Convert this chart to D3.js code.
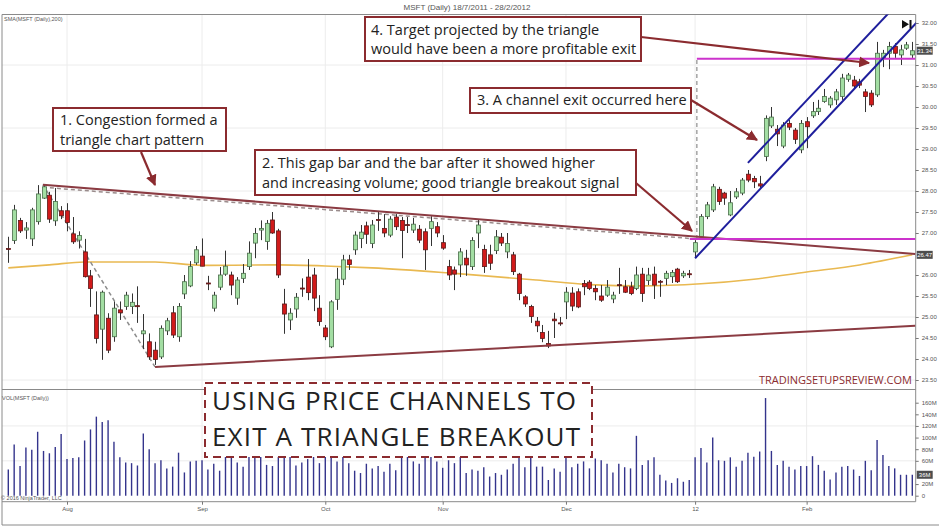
<!DOCTYPE html>
<html>
<head>
<meta charset="utf-8">
<script src="https://cdn.jsdelivr.net/npm/d3@7"></script>
<style>
  body { margin: 0; background: #fff; }
  svg { display: block; }
  .small { font-family: Arial, "Liberation Sans", sans-serif; fill: #555; }
  .note { font-family: "Open Sans", sans-serif; fill: #222; }
</style>
</head>
<body>
<svg id="chart" width="939" height="526"></svg>
<script>

// daily bars (prices in $)
var opens = [26.63,26.82,27.30,27.07,26.86,27.27,27.83,27.90,27.29,27.53,27.53,26.98,26.83,26.55,25.98,25.05,24.71,24.97,24.53,25.17,
  25.25,25.25,25.27,24.60,24.41,24.21,24.05,24.67,25.10,24.53,25.55,25.74,26.29,26.45,25.81,25.21,25.71,26.02,26.00,25.45,
  25.92,26.20,26.76,27.07,26.80,27.31,27.05,25.31,24.93,25.19,25.69,25.95,26.00,25.21,24.74,24.29,25.42,25.90,26.36,26.60,
  26.87,27.17,26.75,27.32,27.11,26.95,27.38,27.30,27.20,27.07,27.09,27.03,27.11,27.15,26.77,26.20,26.12,26.24,26.40,26.20,
  27.00,26.61,26.48,26.58,26.90,26.55,26.48,26.02,25.48,25.25,24.90,24.63,24.37,24.95,24.86,25.36,25.57,25.60,25.80,25.83,
  25.68,25.50,25.52,25.43,25.77,25.72,25.72,25.68,26.02,25.87,26.02,25.85,25.92,25.96,26.14,25.98,26.03,26.55,26.91,27.39,
  27.55,28.04,27.95,27.43,27.86,27.95,28.40,28.30,28.17,28.82,29.55,29.47,29.07,29.61,29.45,28.98,29.65,29.79,29.89,30.13,
  30.05,30.17,30.25,30.66,30.64,30.60,30.36,30.33,30.29,31.16,31.28,31.44,31.24,31.40,31.24];
var highs = [26.91,27.67,27.36,27.26,27.60,28.14,28.14,27.98,28.07,27.64,27.71,27.38,27.04,26.86,26.12,25.61,25.63,25.09,25.37,25.37,
  25.60,25.56,25.73,25.07,24.61,24.41,24.80,24.98,25.26,25.33,26.00,26.33,26.69,26.87,25.98,25.60,26.19,26.58,26.08,25.95,
  26.26,26.80,27.12,27.30,27.31,27.50,27.10,25.67,25.21,25.57,25.92,26.38,26.17,25.52,24.81,25.40,26.17,26.48,26.48,27.04,
  27.19,27.27,27.31,27.50,27.45,27.40,27.45,27.38,27.38,27.36,27.19,27.11,27.40,27.26,26.95,26.36,26.20,26.64,26.60,26.90,
  27.31,26.72,26.72,27.07,27.00,27.00,26.55,26.05,25.52,25.29,25.00,24.81,24.67,25.10,25.00,25.71,25.71,25.68,25.88,25.88,
  25.76,25.76,25.88,25.60,26.17,25.88,25.84,26.20,26.17,26.17,26.20,25.88,26.10,26.12,26.17,26.10,26.12,26.83,27.45,27.74,
  28.17,28.10,27.98,28.00,28.07,28.31,28.50,28.36,28.36,29.80,30.00,29.57,29.64,29.69,29.50,29.69,29.76,30.12,30.17,30.43,
  30.26,30.43,30.79,30.81,30.74,30.67,30.43,30.40,31.55,31.36,31.55,31.52,31.48,31.55,31.55];
var lows = [26.29,26.74,27.00,26.86,26.69,27.20,27.81,27.24,27.17,27.33,27.04,26.74,26.63,25.94,25.24,24.37,23.98,24.14,24.41,24.93,
  25.17,25.07,24.86,24.24,23.98,23.86,24.00,24.57,24.50,24.41,25.43,25.71,26.24,26.21,25.64,25.13,25.64,25.98,25.52,25.29,
  25.81,26.12,26.40,26.83,26.60,26.98,25.93,24.60,24.69,24.98,25.48,25.40,25.14,24.79,24.45,24.26,25.17,25.76,26.12,26.48,
  26.64,26.74,26.64,27.05,26.90,26.90,27.07,26.40,27.00,27.00,26.76,26.12,26.69,26.90,26.60,25.88,25.64,25.95,25.98,26.12,
  26.64,26.05,26.12,26.50,26.69,26.40,26.00,25.40,25.24,24.86,24.64,24.40,24.26,24.50,24.79,24.95,25.14,25.21,25.52,25.64,
  25.40,25.36,25.48,25.33,25.55,25.57,25.52,25.64,25.36,25.76,25.43,25.48,25.76,25.81,25.81,25.93,25.93,26.40,26.86,27.33,
  27.50,27.67,27.67,27.40,27.81,27.90,28.21,28.07,28.07,28.71,29.50,29.07,29.02,29.45,29.12,28.90,29.02,29.74,29.81,30.10,
  29.98,30.05,30.17,30.60,30.45,30.45,29.88,30.00,30.24,30.95,30.90,31.17,31.00,31.36,31.17];
var closes = [26.61,27.55,27.05,27.12,27.55,27.93,28.10,27.33,27.75,27.41,27.25,26.79,26.94,25.96,25.68,24.49,25.59,24.21,25.21,25.10,
  25.52,25.35,25.25,24.67,24.05,23.99,24.73,24.91,24.57,25.25,25.84,26.20,26.60,26.21,25.79,25.52,26.00,26.21,25.76,25.88,
  26.04,26.52,26.99,27.11,27.23,27.00,26.00,25.07,25.09,25.47,25.67,25.58,25.45,24.89,24.53,25.36,25.90,26.36,26.25,26.95,
  27.02,26.97,27.19,27.30,27.00,27.33,27.15,27.06,27.18,27.21,26.83,26.60,27.27,27.00,26.64,26.00,26.02,26.55,26.24,26.82,
  27.19,26.20,26.28,26.91,26.76,26.75,26.08,25.56,25.31,25.01,24.79,24.49,24.31,24.91,24.84,25.59,25.26,25.24,25.72,25.68,
  25.60,25.40,25.71,25.52,25.75,25.59,25.56,26.00,25.56,26.00,25.76,25.83,26.04,26.06,25.84,26.04,26.01,26.77,27.39,27.67,
  28.10,27.75,27.83,27.72,27.98,28.26,28.26,28.22,28.12,29.73,29.76,29.36,29.57,29.52,29.23,29.61,29.53,29.89,29.97,30.25,
  30.21,30.36,30.69,30.76,30.50,30.52,30.25,30.05,31.28,31.28,31.44,31.28,31.36,31.48,31.34];

// daily volume in millions
var volumes = [45,88,51,83,79,110,77,73,84,106,63,65,66,95,114,136,127,130,93,66,
  57,56,52,107,80,56,61,47,50,74,40,59,60,61,45,55,43,72,78,57,
  50,70,84,75,53,51,92,88,71,52,57,63,69,56,74,81,59,68,56,43,
  39,55,47,51,41,55,44,70,76,59,55,73,67,59,48,61,56,69,39,45,
  43,49,33,39,36,45,55,72,49,68,50,50,27,47,41,74,49,55,59,47,
  64,61,55,40,55,49,47,103,53,61,66,36,26,22,30,24,27,66,82,57,
  100,61,60,66,50,60,74,67,76,168,77,53,60,50,45,51,51,68,53,43,
  28,40,50,51,45,34,60,44,96,70,51,47,36,36,36];

// 200 day moving average, read at a few bars
var smaBars = [0, 7, 13, 25, 33, 46, 55, 62, 75, 90, 99, 108, 118, 127, 136, 145, 154];
var smaValues = [26.17, 26.24, 26.31, 26.31, 26.23, 26.24, 26.21, 26.17, 26.05, 25.88, 25.77, 25.74, 25.79, 25.90, 26.07, 26.24, 26.48];

// axis ticks (26.50 and 40M sit under the value boxes)
var priceTicks = [23.5, 24, 24.5, 25, 25.5, 26, 27, 27.5, 28, 28.5, 29, 29.5, 30, 30.5, 31, 31.5, 32];
var priceGrid = [23.5, 25, 26.5, 28, 29.5, 31];
var volumeTicks = [0, 20, 60, 80, 100, 120, 140, 160];
var volumeGrid = [60, 120];
var monthBars = [10, 33, 54, 74, 95, 117, 136];
var monthLabels = ["Aug", "Sep", "Oct", "Nov", "Dec", "12", "Feb"];

// drawn lines, as [bar, price] pairs
var triangleTop = [[5.9, 28.15], [154.5, 26.50]];
var triangleTopDash = [[5.9, 28.09], [116.1, 26.87]];
var triangleBottom = [[25, 23.81], [154.5, 24.79]];
var triangleDrop = [[5.9, 28.15], [25, 23.81]];
var targetMove = [[117.3, 26.86], [117.3, 31.15]];
var targetLine = [[117.3, 31.15], [154.5, 31.15]];
var breakLine = [[116.1, 26.86], [154.5, 26.86]];
var channelLow = [[117, 26.40], [154.8, 32.02]];
var channelHigh = [[126, 28.67], [150, 32.24]];

var svg = d3.select("#chart");

// panel edges
var left = 2, right = 915.7;
var priceTop = 14.5, priceBottom = 389.5;
var volTop = 389.5, volBottom = 501.7;

var x = d3.scaleLinear().domain([0, 154]).range([8.3, 912.3]);
var y = d3.scaleLinear().domain([23.5, 32]).range([380, 23]);
var yVol = d3.scaleLinear().domain([0, 160]).range([495.7, 402.7]);

svg.append("defs").append("clipPath").attr("id", "priceClip")
  .append("rect").attr("x", left).attr("y", priceTop).attr("width", right - left).attr("height", priceBottom - priceTop);

svg.select("defs").append("marker")
  .attr("id", "head").attr("viewBox", "0 0 10 10").attr("refX", 9).attr("refY", 5)
  .attr("markerWidth", 5).attr("markerHeight", 5).attr("orient", "auto")
  .append("path").attr("d", "M0,0 L10,5 L0,10 z").attr("fill", "#8b2b2f");

// grid
svg.selectAll(".hgrid").data(priceGrid).enter().append("line")
  .attr("x1", left).attr("x2", right)
  .attr("y1", function(d) { return y(d); }).attr("y2", function(d) { return y(d); })
  .attr("stroke", "#ececec");
svg.selectAll(".vgrid").data(volumeGrid).enter().append("line")
  .attr("x1", left).attr("x2", right)
  .attr("y1", function(d) { return yVol(d); }).attr("y2", function(d) { return yVol(d); })
  .attr("stroke", "#ececec");
svg.selectAll(".mgrid").data(monthBars).enter().append("line")
  .attr("x1", function(d) { return x(d); }).attr("x2", function(d) { return x(d); })
  .attr("y1", priceTop).attr("y2", volBottom)
  .attr("stroke", "#ececec");

// frame
var frame = svg.append("g").attr("stroke", "#8a8a8a").attr("fill", "none");
frame.append("line").attr("x1", left).attr("x2", left).attr("y1", priceTop).attr("y2", 525);
frame.append("line").attr("x1", left).attr("x2", 939).attr("y1", 525).attr("y2", 525);
frame.append("line").attr("x1", left).attr("x2", right).attr("y1", priceTop).attr("y2", priceTop);
frame.append("line").attr("x1", left).attr("x2", right).attr("y1", volTop).attr("y2", volTop);
frame.append("line").attr("x1", left).attr("x2", right).attr("y1", volBottom).attr("y2", volBottom);
frame.append("line").attr("x1", right).attr("x2", right).attr("y1", priceTop).attr("y2", volBottom);

// small texts
svg.append("text").attr("class", "small").attr("x", 467).attr("y", 10).attr("text-anchor", "middle")
  .style("font-size", "8px").text("MSFT (Daily)  18/7/2011 - 28/2/2012");
svg.append("text").attr("class", "small").attr("x", 4).attr("y", 21).style("font-size", "5.5px").text("SMA(MSFT (Daily),200)");
svg.append("text").attr("class", "small").attr("x", 2).attr("y", 400).style("font-size", "5.5px").text("VOL(MSFT (Daily))");
svg.append("text").attr("class", "small").attr("x", 1).attr("y", 500).style("font-size", "5.5px").text("\u00a9 2016 NinjaTrader, LLC");

// price axis
var pAxis = svg.append("g").attr("transform", "translate(" + right + ",0)")
  .call(d3.axisRight(y).tickValues(priceTicks).tickSize(3).tickPadding(3).tickFormat(d3.format(".2f")));
// volume axis
var vAxis = svg.append("g").attr("transform", "translate(" + right + ",0)")
  .call(d3.axisRight(yVol).tickValues(volumeTicks).tickSize(3).tickPadding(3)
    .tickFormat(function(d) { return d == 0 ? "0" : d + "M"; }));
// time axis
var tAxis = svg.append("g").attr("transform", "translate(0," + volBottom + ")")
  .call(d3.axisBottom(x).tickValues(monthBars).tickSize(3).tickPadding(2)
    .tickFormat(function(d, i) { return monthLabels[i]; }));
[pAxis, vAxis, tAxis].forEach(function(a) {
  a.select(".domain").remove();
  a.selectAll("line").attr("stroke", "#777");
  a.selectAll("text").attr("class", "small").attr("fill", "#555").style("font-size", "6px").style("font-family", "Arial, 'Liberation Sans', sans-serif");
});

// volume bars
svg.selectAll(".vol").data(volumes).enter().append("line")
  .attr("x1", function(d, i) { return x(i); }).attr("x2", function(d, i) { return x(i); })
  .attr("y1", yVol(0)).attr("y2", function(d) { return yVol(d); })
  .attr("stroke", "#34348c").attr("stroke-width", 1.4);

var plot = svg.append("g").attr("clip-path", "url(#priceClip)");

// moving average
var smaLine = d3.line()
  .x(function(d, i) { return x(smaBars[i]); })
  .y(function(d) { return y(d); })
  .curve(d3.curveMonotoneX);
plot.append("path").attr("d", smaLine(smaValues))
  .attr("fill", "none").attr("stroke", "#e9b951").attr("stroke-width", 1.6);

function drawLine(pts, color, width, dash) {
  plot.append("line")
    .attr("x1", x(pts[0][0])).attr("y1", y(pts[0][1]))
    .attr("x2", x(pts[1][0])).attr("y2", y(pts[1][1]))
    .attr("stroke", color).attr("stroke-width", width)
    .attr("stroke-dasharray", dash || null);
}

drawLine(triangleDrop, "#8c8c8c", 1.5, "4,3");
drawLine(triangleTopDash, "#9a8c8c", 1.5, "4,3");
drawLine(targetMove, "#8c8c8c", 1.2, "4,3");

// candles
var bars = plot.selectAll(".bar").data(closes).enter().append("g");
bars.append("line")
  .attr("x1", function(d, i) { return Math.round(x(i)) + 0.5; })
  .attr("x2", function(d, i) { return Math.round(x(i)) + 0.5; })
  .attr("y1", function(d, i) { return y(highs[i]); })
  .attr("y2", function(d, i) { return y(lows[i]); })
  .attr("stroke", "#333");
bars.append("rect")
  .attr("x", function(d, i) { return Math.round(x(i)) - 1.5; })
  .attr("width", 4)
  .attr("y", function(d, i) { return y(Math.max(opens[i], d)); })
  .attr("height", function(d, i) { return Math.max(1, Math.abs(y(opens[i]) - y(d))); })
  .attr("fill", function(d, i) { return d >= opens[i] ? "#a3dea3" : "#d11a1a"; })
  .attr("stroke", function(d, i) { return d >= opens[i] ? "#4a6e4a" : "#5a1a1a"; })
  .attr("stroke-width", 0.8);

drawLine(triangleTop, "#8b3b42", 2);
drawLine(triangleBottom, "#8b3b42", 2);
drawLine(breakLine, "#cc33cc", 2);
drawLine(targetLine, "#cc33cc", 2);
drawLine(channelLow, "#1e1e9c", 2);
drawLine(channelHigh, "#1e1e9c", 2);

// last value boxes on the axes
function valueBox(yy, label) {
  svg.append("rect").attr("x", right + 1).attr("y", yy - 4).attr("width", 16).attr("height", 8).attr("fill", "#4d4d4d");
  svg.append("text").attr("x", right + 9).attr("y", yy + 2.2).attr("text-anchor", "middle")
    .style("font-family", "Arial, 'Liberation Sans', sans-serif").style("font-size", "6px").attr("fill", "#fff").text(label);
}
valueBox(y(closes[closes.length - 1]), closes[closes.length - 1].toFixed(2));
valueBox(y(smaValues[smaValues.length - 1]), "26.47");
valueBox(yVol(volumes[volumes.length - 1]), volumes[volumes.length - 1] + "M");

// play-to-end icon
svg.append("path").attr("d", "M902,20 L902,28.5 L909,24.2 Z").attr("fill", "#111");
svg.append("rect").attr("x", 909.5).attr("y", 20).attr("width", 2).attr("height", 8.5).attr("fill", "#111");

// annotation boxes, lines are [x, baseline, text, stretched width]
function noteBox(bx, by, bw, bh, lines, size, dash) {
  svg.append("rect").attr("x", bx).attr("y", by).attr("width", bw).attr("height", bh)
    .attr("fill", "#fff").attr("stroke", "#8b2b2f").attr("stroke-width", 2)
    .attr("stroke-dasharray", dash || null);
  lines.forEach(function(t) {
    var txt = svg.append("text").attr("class", "note").attr("x", t[0]).attr("y", t[1])
      .style("font-size", size + "px").text(t[2]);
    if (t[3]) txt.attr("textLength", t[3]).attr("lengthAdjust", "spacing");
  });
}
function arrow(x1, y1, x2, y2) {
  svg.append("line").attr("x1", x1).attr("y1", y1).attr("x2", x2).attr("y2", y2)
    .attr("stroke", "#8b2b2f").attr("stroke-width", 2.2).attr("marker-end", "url(#head)");
}

noteBox(365, 17, 276, 44, [[371, 35, "4. Target projected by the triangle"], [371, 54, "would have been a more profitable exit"]], 14.5);
arrow(641, 37, 869, 63);

noteBox(470, 88, 221, 25, [[477, 105, "3. A channel exit occurred here"]], 14.5);
arrow(691, 100, 757, 140);

noteBox(53, 108, 173, 43, [[60, 125, "1. Congestion formed a"], [60, 145, "triangle chart pattern"]], 14.5);
arrow(141, 152, 155, 185);

noteBox(255, 150, 381, 45, [[262, 168, "2. This gap bar and the bar after it showed higher"], [262, 188, "and increasing volume; good triangle breakout signal"]], 14.5);
arrow(636, 183, 692, 231);

noteBox(205, 383, 387, 74, [[212, 410, "USING PRICE CHANNELS TO", 364], [212, 446, "EXIT A TRIANGLE BREAKOUT", 368]], 26, "8,5");

svg.append("text").attr("x", 912).attr("y", 384).attr("text-anchor", "end")
  .style("font-family", "'Open Sans', sans-serif").style("font-size", "11px")
  .attr("fill", "#8b2b2f").text("TRADINGSETUPSREVIEW.COM");

</script>
</body>
</html>
